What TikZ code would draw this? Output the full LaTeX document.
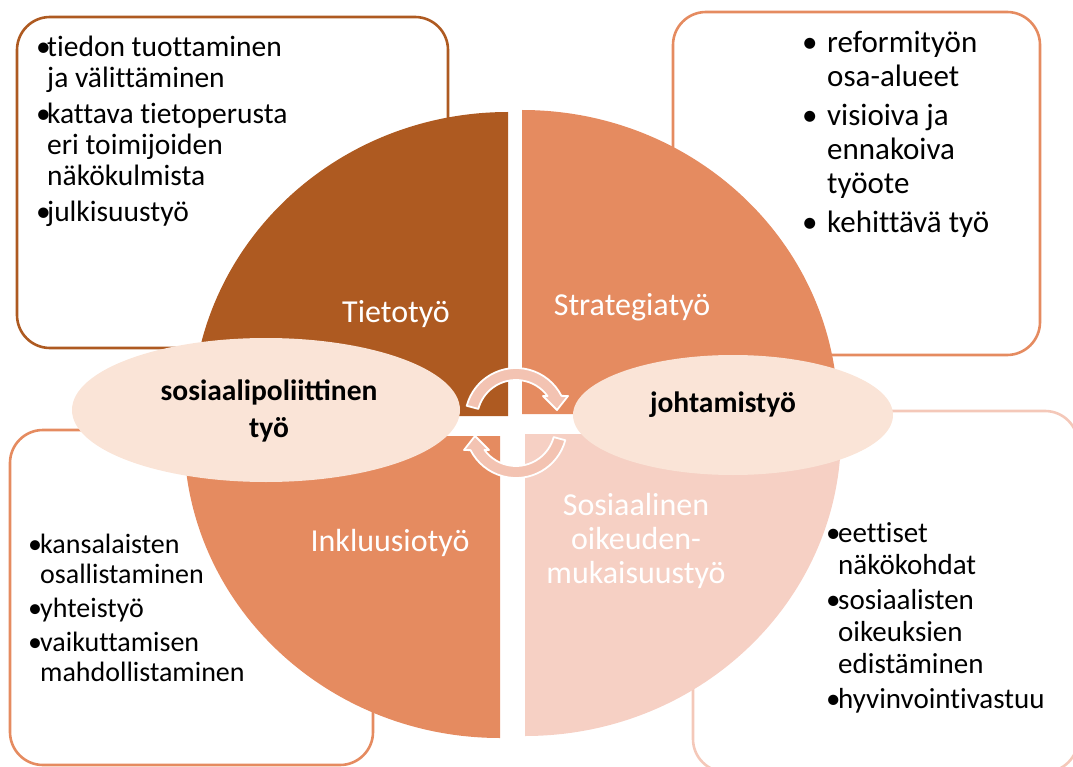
\documentclass[tikz,border=0pt]{standalone}
\usepackage{fontspec}
\setmainfont{Carlito}[Ligatures=CommonOff]
\newfontfamily\ligfont{Carlito}
\usetikzlibrary{shapes.geometric}
\definecolor{tietobrown}{HTML}{AE5A21}
\definecolor{stratorange}{HTML}{E58B60}
\definecolor{oikpink}{HTML}{F6D0C4}
\definecolor{ellcream}{HTML}{FAE4D7}
\definecolor{arrpink}{HTML}{F3C3B2}
\definecolor{boxlight}{HTML}{F4C8B9}
\newcommand{\itemdot}[1]{\makebox[#1][l]{•}}
\begin{document}
\begin{tikzpicture}[x=1pt,y=-1pt,
  box/.style={line width=2.6pt, rounded corners=33pt},
  blob/.style={ellipse, fill=ellcream, inner sep=0pt},
  qlabel/.style={text=white, inner sep=0pt, anchor=base, font=\fontsize{32}{34}\selectfont},
  blabel/.style={inner sep=0pt, anchor=base, font=\ligfont\bfseries\fontsize{29.5}{37}\selectfont},
  lst/.style={anchor=base west, inner sep=0pt},
  cyc/.style={fill=arrpink, draw=white, line width=1.8pt, line join=round}]
\useasboundingbox (0,0) rectangle (1073,767);
% boxes behind the circle
\draw[box, draw=tietobrown] (17,17) rectangle (448,348);
\draw[box, draw=stratorange] (673,12) rectangle (1040,355);
\draw[box, draw=stratorange] (10,430) rectangle (373,765);
\draw[box, draw=boxlight] (693,411) rectangle (1078,772);
% the four quarters
\fill[tietobrown] (508,416) -- (192,416) arc[start angle=180, end angle=270, x radius=316, y radius=304] -- cycle;
\fill[stratorange] (522,414) -- (522,110) arc[start angle=270, end angle=360, x radius=316, y radius=304] -- cycle;
\fill[stratorange] (500,436) -- (500,738) arc[start angle=90, end angle=180, x radius=316, y radius=302] -- cycle;
\fill[oikpink] (525,434) -- (841,434) arc[start angle=0, end angle=90, x radius=316, y radius=302] -- cycle;
% cycle arrows
\foreach \cy/\rot in {419/0, 427/180}{
  \begin{scope}[shift={(516,\cy)}, rotate=\rot]
    \filldraw[cyc] (195:51) arc[start angle=195, end angle=333, radius=51] -- (52,-23) -- (41,-9) -- (27,-23) -- (323.9:39) arc[start angle=323.9, end angle=195, radius=39] -- cycle;
  \end{scope}
}
% ellipses
\node[blob, minimum width=388pt, minimum height=144pt] (sospol) at (266,410) {};
\node[blob, minimum width=320pt, minimum height=120pt] (johto) at (733,415) {};
\node[blabel] (sospoltxt) at (269,400) {\begin{tabular}[t]{@{}c@{}}sosiaalipoliittinen\\työ\end{tabular}};
\node[blabel] (johtotxt) at (723,412) {johtamistyö};
% quarter labels
\node[qlabel] (tieto) at (396,322) {Tietotyö};
\node[qlabel] (strat) at (632,315) {Strategiatyö};
\node[qlabel] (inkl) at (390,551) {Inkluusiotyö};
\node[qlabel] (oik) at (636,515) {\begin{tabular}[t]{@{}c@{}}Sosiaalinen\\oikeuden-\\mukaisuustyö\end{tabular}};
% lists
\node[lst, font=\fontsize{29.5}{31}\selectfont] (tietolist) at (36,57) {\begin{tabular}[t]{@{}l@{}l@{}}
  \itemdot{11pt}&tiedon tuottaminen\\&ja välittäminen\\[5pt]
  \itemdot{11pt}&kattava tietoperusta\\&eri toimijoiden\\&näkökulmista\\[5pt]
  \itemdot{11pt}&julkisuustyö\end{tabular}};
\node[lst, font=\fontsize{31}{34}\selectfont] (stratlist) at (802,53) {\begin{tabular}[t]{@{}l@{}l@{}}
  \itemdot{25pt}&reformityön\\&osa-alueet\\[5pt]
  \itemdot{25pt}&visioiva ja\\&ennakoiva\\&työote\\[5pt]
  \itemdot{25pt}&kehittävä työ\end{tabular}};
\node[lst, font=\fontsize{28}{30}\selectfont] (inkllist) at (28,553) {\begin{tabular}[t]{@{}l@{}l@{}}
  \itemdot{12pt}&kansalaisten\\&osallistaminen\\[4pt]
  \itemdot{12pt}&yhteistyö\\[4pt]
  \itemdot{12pt}&vaikuttamisen\\&mahdollistaminen\end{tabular}};
\node[lst, font=\fontsize{29}{32}\selectfont] (oiklist) at (826,542) {\begin{tabular}[t]{@{}l@{}l@{}}
  \itemdot{12pt}&eettiset\\&näkökohdat\\[3pt]
  \itemdot{12pt}&sosiaalisten\\&oikeuksien\\&edistäminen\\[3pt]
  \itemdot{12pt}&hyvinvointivastuu\end{tabular}};
\end{tikzpicture}
\end{document}
